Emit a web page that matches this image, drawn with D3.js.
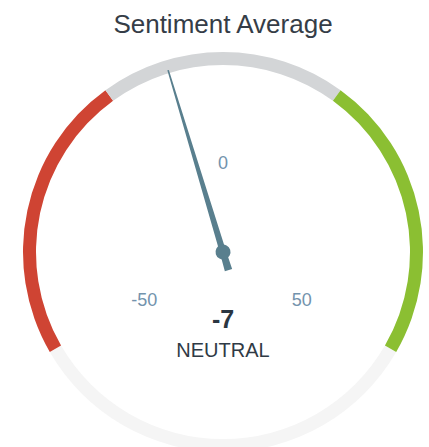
<!DOCTYPE html>
<html><head><meta charset="utf-8">
<script src="https://cdn.jsdelivr.net/npm/d3@7"></script>
<style>html,body{margin:0;padding:0;background:#fff;}svg{display:block;}</style>
</head><body>
<svg id="c" width="429" height="447"></svg>
<script>
const title = "Sentiment Average";
const scaleMin = -50, scaleMax = 50;
const bandFrom = [-50, -15, 15];
const bandTo = [-15, 15, 50];
const tickValues = [-50, 0, 50];
const value = -7;
const statusLabel = "NEUTRAL";

const bandColors = ["#cf4433", "#d3d5d7", "#8bbf32"];
const svg = d3.select("#c");
const cx = 223, cy = 252, rOuter = 200, rInner = 187;
const g = svg.append("g").attr("transform", `translate(${cx},${cy})`);
const ang = d3.scaleLinear().domain([scaleMin, scaleMax]).range([-2*Math.PI/3, 2*Math.PI/3]);
const arc = d3.arc().innerRadius(rInner).outerRadius(rOuter);

// background (bottom) arc
g.append("path").attr("d", arc({startAngle: ang(scaleMax), endAngle: ang(scaleMin) + 2*Math.PI}))
  .attr("fill", "#f5f5f5");

g.selectAll("path.band").data(bandFrom.map((f,i)=>({f, t: bandTo[i], c: bandColors[i]})))
  .enter().append("path").attr("class","band")
  .attr("d", d => arc({startAngle: ang(d.f), endAngle: ang(d.t)}))
  .attr("fill", d => d.c);

// tick labels
const rl = 91;
g.selectAll("text.tick").data(tickValues).enter().append("text").attr("class","tick")
  .attr("x", d => rl*Math.sin(ang(d)))
  .attr("y", d => -rl*Math.cos(ang(d)) + 2)
  .attr("text-anchor","middle").attr("dominant-baseline","central")
  .attr("font-family","Liberation Sans, Arial, sans-serif").attr("font-size",18)
  .attr("fill","#7393ad").text(d => d);

// needle
const a = ang(value);
const len = 190, tail = 19;
const needle = g.append("g").attr("transform", `rotate(${a*180/Math.PI})`).attr("fill","#597f8e");
needle.append("path").attr("d", `M -0.8 ${-len} L 0.8 ${-len} L 3.2 0 L 3.8 ${tail} L -3.8 ${tail} L -3.2 0 Z`);
needle.append("circle").attr("r", 7.5).attr("cx",0).attr("cy",0);

// title
svg.append("text").attr("x", cx).attr("y", 33).attr("text-anchor","middle")
  .attr("font-family","Liberation Sans, Arial, sans-serif").attr("font-size",26)
  .attr("fill","#353d47").text(title);

// value
svg.append("text").attr("x", cx).attr("y", 328).attr("text-anchor","middle")
  .attr("font-family","Liberation Sans, Arial, sans-serif").attr("font-size",25).attr("font-weight","bold")
  .attr("fill","#2b3641").text(value);
svg.append("text").attr("x", cx).attr("y", 357).attr("text-anchor","middle")
  .attr("font-family","Liberation Sans, Arial, sans-serif").attr("font-size",20)
  .attr("fill","#2f3a45").text(statusLabel);
</script>
</body></html>
